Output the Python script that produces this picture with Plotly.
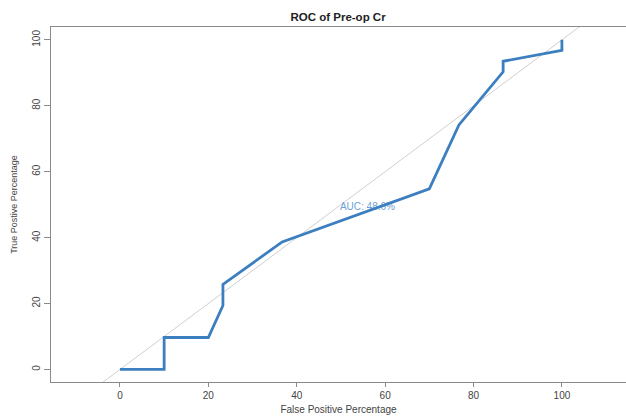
import plotly.graph_objects as go

fpr = [0, 10, 10, 20, 23.3, 23.3, 36.7, 70, 76.7, 86.7, 86.7, 100, 100]
tpr = [0, 0, 9.7, 9.7, 19.4, 25.8, 38.7, 54.8, 74.2, 90.3, 93.5, 96.8, 100]
diag = [-20, 120]
ticks = [0, 20, 40, 60, 80, 100]
auc_text = "AUC: 48.6%"
auc_pos = (56, 49)

FONT = "Liberation Sans, Arial, Helvetica, sans-serif"

fig = go.Figure()
fig.add_trace(go.Scatter(x=diag, y=diag, mode="lines",
                         line=dict(color="#cfcfcf", width=1), hoverinfo="skip"))
fig.add_trace(go.Scatter(x=[auc_pos[0]], y=[auc_pos[1]], mode="text", text=[auc_text],
                         textfont=dict(family=FONT, size=10, color="#6c9fd6"),
                         textposition="middle center"))
fig.add_trace(go.Scatter(x=fpr, y=tpr, mode="lines",
                         line=dict(color="#3b7fc0", width=2.8)))

fig.update_layout(
    width=626, height=416,
    margin=dict(l=51, r=0, t=27, b=34),
    paper_bgcolor="white", plot_bgcolor="white",
    showlegend=False,
    font=dict(family=FONT, size=10, color="#444444"),
    title=dict(text="<b>ROC of Pre-op Cr</b>", x=0.54, xanchor="center",
               y=1 - 17 / 416, yanchor="middle",
               font=dict(family=FONT, size=11.5, color="#222222")),
    xaxis=dict(range=[-15.6, 114.5], tickvals=ticks, showgrid=False, zeroline=False,
               showline=True, mirror=True, linecolor="#8a8a8a", linewidth=1.2,
               ticks="outside", ticklen=4, tickcolor="#8a8a8a",
               tickfont=dict(size=10, color="#444444"),
               title=dict(text="False Positive Percentage", standoff=5,
                          font=dict(size=10, color="#444444"))),
    yaxis=dict(range=[-3.8, 103.9], tickvals=ticks, showgrid=False, zeroline=False,
               showline=True, linecolor="#8a8a8a", linewidth=1.2,
               ticks="outside", ticklen=6, tickcolor="#8a8a8a", tickangle=-90,
               tickfont=dict(size=10, color="#444444"),
               title=dict(text="True Postive Percentage", standoff=11,
                          font=dict(size=9, color="#444444"))),
)

fig.write_html("out.html")
